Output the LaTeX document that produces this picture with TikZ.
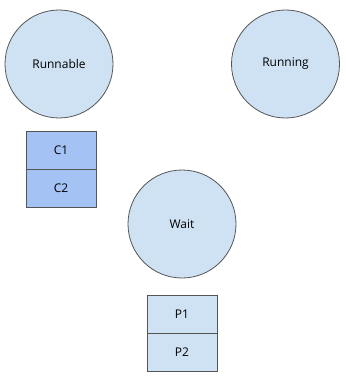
\documentclass[tikz,border=0pt]{standalone}
\usepackage{fontspec}
\setmainfont{Open Sans}
\definecolor{cfill}{HTML}{CFE2F3}
\definecolor{dfill}{HTML}{A4C2F4}
\definecolor{edge}{HTML}{555555}
\begin{document}
\begin{tikzpicture}[x=1pt,y=-1pt,
  state/.style={circle,draw=edge,fill=cfill,line width=0.8pt,minimum size=108pt,inner sep=0pt,font=\fontsize{12}{14}\selectfont},
  cell/.style={rectangle,draw=edge,line width=0.8pt,minimum width=70pt,minimum height=38pt,inner sep=0pt,font=\fontsize{12}{14}\selectfont},
  dcell/.style={cell,fill=dfill},
  lcell/.style={cell,fill=cfill}]
\useasboundingbox[fill=white] (0,0) rectangle (345,379);
\node[state] (runnable) at (59,64) {Runnable};
\node[state] (running) at (285.5,64) {Running};
\node[state] (wait) at (182,224) {Wait};
\node[dcell] (c1) at (61,150) {C1};
\node[dcell] (c2) at (61,188) {C2};
\node[lcell] (p1) at (182,314.5) {P1};
\node[lcell] (p2) at (182,352.5) {P2};
\end{tikzpicture}
\end{document}
